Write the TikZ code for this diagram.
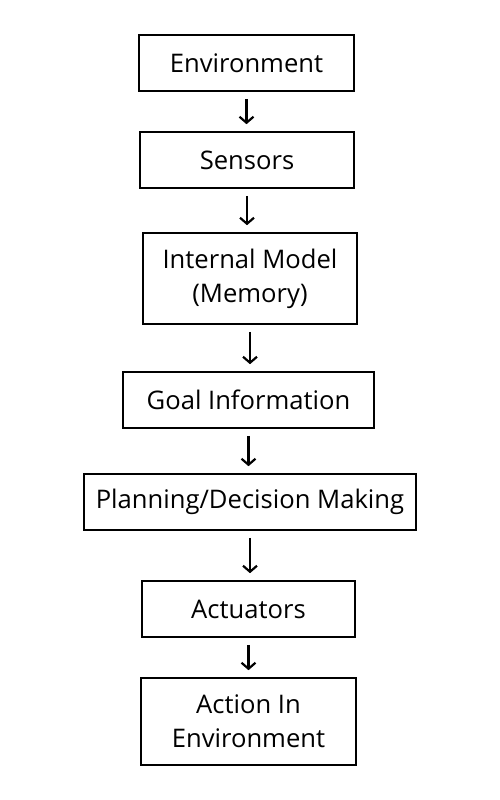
\documentclass[tikz,border=0pt]{standalone}
\usepackage{fontspec}
\setmainfont{Open Sans}
\usepackage{tikz}
\usetikzlibrary{arrows.meta,positioning}
\tikzset{
	stagebox/.style = {draw=black, line width=1.6pt, rectangle, align=center,
		inner sep=0pt, font=\fontsize{25.6}{34}\selectfont},% boite d'une etape
	flowarr/.style = {-{Straight Barb[length=6pt,width=14pt]}, line width=2.2pt,
		shorten <=7pt, shorten >=7pt}% fleche entre etapes
}
\begin{document}
\begin{tikzpicture}[x=1pt,y=-1pt]
\useasboundingbox (0,0) rectangle (500,800);
\node [stagebox, minimum width=215pt, minimum height=56pt] (env) at (246.5,63) {Environment};
\node [stagebox, minimum width=214pt, minimum height=56pt] (sen) at (247,160) {Sensors};
\node [stagebox, minimum width=214pt, minimum height=91pt] (mem) at (250,278.5) {Internal Model\\(Memory)};
\node [stagebox, minimum width=251pt, minimum height=56pt] (goal) at (248.5,400) {Goal Information};
\node [stagebox, minimum width=332pt, minimum height=56pt] (plan) at (250,502) {Planning/Decision Making};
\node [stagebox, minimum width=213pt, minimum height=56pt] (act) at (248.5,609) {Actuators};
\node [stagebox, minimum width=215pt, minimum height=87pt] (out) at (248.5,721.5) {Action In\\Environment};
\foreach \a/\b in {env/sen, sen/mem, mem/goal, goal/plan, plan/act, act/out}
	\draw [flowarr] (\a.south) -- (\a.south |- \b.north);
\end{tikzpicture}
\end{document}
